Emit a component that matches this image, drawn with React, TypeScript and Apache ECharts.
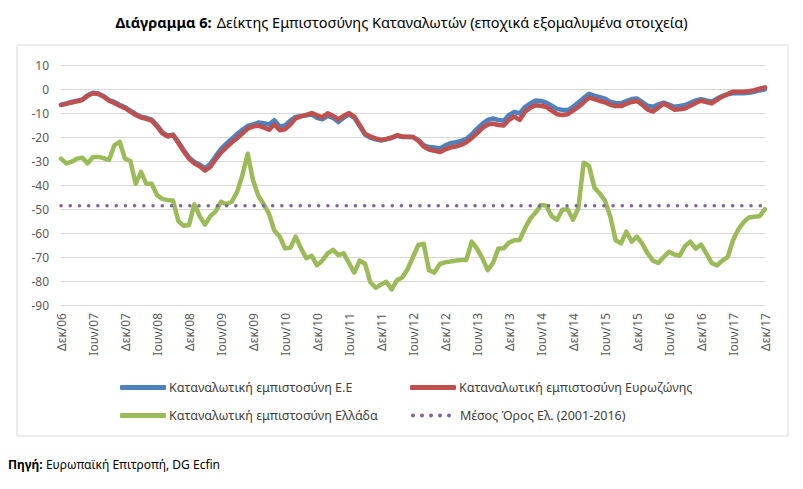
import React, { useEffect, useRef } from "react";
import * as echarts from "echarts";

const monthNames = ["Ιαν", "Φεβ", "Μαρ", "Απρ", "Μαϊ", "Ιουν", "Ιουλ", "Αυγ", "Σεπ", "Οκτ", "Νοε", "Δεκ"];
const startYear = 2006;
const startMonth = 11; // Δεκ
const monthCount = 133;

const categories: string[] = [];
for (let k = 0; k < monthCount; k++) {
  const m = (startMonth + k) % 12;
  const y = startYear + Math.floor((startMonth + k) / 12);
  categories.push(`${monthNames[m]}/${String(y).slice(2)}`);
}

const yTicks = { min: -90, max: 10, interval: 10 };

const euValues = [
  -6.5, -6.0, -5.4, -4.9, -4.4, -2.6, -1.6, -1.9, -3.0, -4.6, -5.4, -6.6, -7.6, -9.0, -10.4, -11.5, -12.0, -12.8, -15.0, -18.0,
  -19.4, -19.0, -22.0, -25.4, -28.5, -30.4, -31.5, -33.0, -31.2, -28.0, -25.0, -22.8, -20.8, -18.8, -17.0, -15.4, -14.8, -14.0, -14.3, -14.8,
  -13.0, -15.6, -15.2, -13.2, -11.6, -11.2, -11.0, -10.6, -12.0, -12.6, -11.2, -12.0, -13.8, -12.0, -10.6, -12.0, -15.4, -19.0, -20.3, -21.0,
  -21.5, -21.0, -20.4, -19.5, -20.0, -20.0, -20.0, -21.2, -23.4, -24.2, -24.4, -24.8, -23.6, -22.6, -22.2, -21.6, -20.8, -19.0, -16.6, -14.5,
  -12.9, -12.3, -12.9, -13.2, -10.8, -9.6, -10.2, -7.5, -6.0, -4.8, -5.0, -5.7, -7.0, -8.3, -8.7, -8.8, -7.5, -5.6, -3.8, -2.0,
  -2.8, -3.4, -4.0, -5.4, -5.8, -6.0, -5.0, -4.2, -4.0, -5.5, -7.0, -7.4, -6.4, -5.7, -6.5, -7.4, -7.1, -6.7, -5.8, -4.8,
  -4.3, -4.8, -5.3, -4.0, -2.9, -2.2, -1.8, -1.8, -1.8, -1.6, -1.2, -0.6, -0.1,
];

const eaValues = [
  -6.7, -6.2, -5.6, -5.1, -4.6, -2.8, -1.8, -2.1, -3.2, -4.9, -5.8, -7.0, -8.0, -9.4, -10.8, -11.9, -12.4, -13.2, -15.6, -18.5,
  -19.8, -19.2, -22.5, -26.0, -29.0, -31.0, -32.2, -34.0, -32.5, -29.3, -26.5, -24.3, -22.3, -20.5, -18.6, -16.5, -15.6, -15.3, -16.0, -17.0,
  -14.8, -17.2, -16.8, -14.8, -12.2, -11.4, -10.8, -10.0, -11.0, -11.8, -10.1, -11.2, -12.7, -11.2, -10.0, -11.5, -15.0, -18.6, -19.8, -20.6,
  -21.2, -20.8, -20.2, -19.3, -19.8, -19.9, -20.0, -21.6, -24.0, -25.2, -25.7, -26.3, -25.2, -24.4, -24.0, -23.3, -22.2, -20.5, -18.5, -16.3,
  -14.8, -14.5, -15.0, -15.2, -12.8, -11.5, -12.9, -9.5, -7.8, -6.8, -7.0, -7.5, -9.0, -10.5, -10.8, -10.5, -9.0, -7.5, -5.6, -3.6,
  -4.2, -5.0, -5.5, -6.6, -7.1, -7.1, -6.2, -5.4, -5.0, -6.6, -8.6, -9.4, -7.8, -6.1, -7.2, -8.6, -8.4, -8.1, -7.0, -5.8,
  -4.9, -5.4, -6.0, -4.5, -3.2, -2.1, -1.1, -1.1, -1.1, -0.9, -0.5, 0.1, 0.7,
];

const grValues = [
  -29.0, -31.0, -30.3, -29.0, -28.6, -31.0, -28.3, -28.3, -28.8, -29.6, -23.5, -22.0, -29.0, -30.0, -39.5, -34.5, -39.5, -39.5, -44.2, -45.8,
  -46.3, -46.5, -55.0, -57.0, -56.7, -48.0, -53.0, -56.5, -53.0, -51.0, -47.0, -48.0, -47.0, -43.0, -36.0, -27.0, -38.0, -44.5, -48.0, -52.0,
  -59.0, -61.5, -66.4, -66.2, -61.5, -66.4, -70.5, -69.5, -73.5, -71.5, -68.5, -67.0, -69.2, -68.5, -72.5, -76.5, -71.5, -72.8, -80.5, -82.8,
  -81.5, -80.3, -83.5, -79.6, -78.5, -75.0, -70.0, -65.0, -64.5, -75.5, -76.5, -73.0, -72.2, -71.9, -71.5, -71.3, -71.2, -63.6, -66.5, -70.5,
  -75.5, -72.5, -66.5, -66.4, -64.0, -63.0, -62.9, -58.0, -54.0, -51.5, -48.3, -48.6, -53.0, -54.5, -50.3, -50.1, -54.5, -49.7, -30.7, -32.0,
  -41.0, -43.5, -46.5, -53.2, -63.0, -64.3, -59.4, -63.6, -61.5, -64.5, -68.5, -71.5, -72.5, -70.0, -67.8, -69.0, -69.5, -65.4, -63.6, -66.5,
  -64.8, -68.5, -72.5, -73.5, -71.5, -70.0, -63.0, -58.5, -55.5, -53.5, -53.2, -53.0, -50.1,
];

const greekMean = -48.6;
const meanValues = categories.map(() => greekMean);

const seriesNames = [
  "Καταναλωτική εμπιστοσύνη Ε.Ε",
  "Καταναλωτική εμπιστοσύνη Ευρωζώνης",
  "Καταναλωτική εμπιστοσύνη Ελλάδα",
  "Μέσος Όρος Ελ. (2001-2016)",
];

const FONT = "'Noto Sans', 'Open Sans', sans-serif";

const dotsIcon =
  "path://M0,2a2,2 0 1,0 4,0a2,2 0 1,0 -4,0Z M9,2a2,2 0 1,0 4,0a2,2 0 1,0 -4,0Z M18,2a2,2 0 1,0 4,0a2,2 0 1,0 -4,0Z M27,2a2,2 0 1,0 4,0a2,2 0 1,0 -4,0Z M36,2a2,2 0 1,0 4,0a2,2 0 1,0 -4,0Z";

export default function App() {
  const ref = useRef<HTMLDivElement>(null);

  useEffect(() => {
    document.body.style.margin = "0";
    if (!ref.current) return;
    const chart = echarts.init(ref.current, undefined, { renderer: "svg" });
    const legendText = { color: "#404040", fontSize: 12.5, fontFamily: FONT, padding: [0, 0, 0, -2] };
    const lineLegend = {
      orient: "horizontal" as const,
      icon: "roundRect",
      itemWidth: 46,
      itemHeight: 5,
      textStyle: legendText,
      selectedMode: false,
    };
    const dotLegend = {
      orient: "horizontal" as const,
      icon: dotsIcon,
      itemWidth: 40,
      itemHeight: 4,
      textStyle: { ...legendText, padding: [0, 0, 0, 4] },
      selectedMode: false,
    };
    chart.setOption({
      animation: false,
      backgroundColor: "#ffffff",
      title: {
        left: "center",
        top: 8,
        text: "{b|Διάγραμμα 6:} {r|Δείκτης Εμπιστοσύνης Καταναλωτών (εποχικά εξομαλυμένα στοιχεία)}",
        textStyle: {
          fontWeight: "normal",
          rich: {
            b: { fontFamily: FONT, fontSize: 14.5, fontWeight: "bold", color: "#000" },
            r: { fontFamily: FONT, fontSize: 14.5, fontWeight: "normal", color: "#000" },
          },
        },
      },
      graphic: [
        {
          type: "rect",
          shape: { x: 17, y: 45, width: 771, height: 391 },
          style: { fill: "none", stroke: "#d9d9d9", lineWidth: 1 },
          silent: true,
        },
        {
          type: "text",
          left: 8,
          top: 458,
          style: {
            text: "{b|Πηγή:} {r|Ευρωπαϊκή Επιτροπή, DG Ecfin}",
            rich: {
              b: { fontFamily: FONT, fontSize: 12, fontWeight: "bold", fill: "#000" },
              r: { fontFamily: FONT, fontSize: 12, fontWeight: "normal", fill: "#000" },
            },
          },
        },
      ],
      legend: [
        { ...lineLegend, data: [seriesNames[0]], left: 115, top: 376 },
        { ...lineLegend, data: [seriesNames[1]], left: 405, top: 376 },
        { ...lineLegend, data: [seriesNames[2]], left: 115, top: 404 },
        { ...dotLegend, data: [seriesNames[3]], left: 406, top: 404 },
      ],
      grid: { left: 61, right: 38, top: 65, bottom: 184, containLabel: false },
      xAxis: {
        type: "category",
        data: categories,
        boundaryGap: false,
        axisLine: { show: false },
        axisTick: { show: false },
        splitLine: { show: false },
        axisLabel: {
          interval: 5,
          rotate: 90,
          color: "#595959",
          fontSize: 12,
          fontFamily: FONT,
          margin: 8,
        },
      },
      yAxis: {
        type: "value",
        min: yTicks.min,
        max: yTicks.max,
        interval: yTicks.interval,
        axisLine: { show: false },
        axisTick: { show: false },
        splitLine: { show: true, lineStyle: { color: "#d9d9d9", width: 1 } },
        axisLabel: { color: "#595959", fontSize: 12, fontFamily: FONT, margin: 12 },
      },
      series: [
        {
          name: seriesNames[0],
          type: "line",
          data: euValues,
          symbol: "none",
          lineStyle: { color: "#4F81BD", width: 4.5, cap: "round", join: "round" },
          itemStyle: { color: "#4F81BD" },
        },
        {
          name: seriesNames[1],
          type: "line",
          data: eaValues,
          symbol: "none",
          lineStyle: { color: "#C0504D", width: 4.5, cap: "round", join: "round" },
          itemStyle: { color: "#C0504D" },
        },
        {
          name: seriesNames[2],
          type: "line",
          data: grValues,
          symbol: "none",
          lineStyle: { color: "#9BBB59", width: 4.5, cap: "round", join: "round" },
          itemStyle: { color: "#9BBB59" },
        },
        {
          name: seriesNames[3],
          type: "line",
          data: meanValues,
          symbol: "none",
          lineStyle: { color: "#7F64A2", width: 3.5, type: [0.1, 9.1], cap: "round" },
          itemStyle: { color: "#7F64A2" },
        },
      ],
    });
    return () => chart.dispose();
  }, []);

  return <div ref={ref} style={{ width: 803, height: 489 }} />;
}
